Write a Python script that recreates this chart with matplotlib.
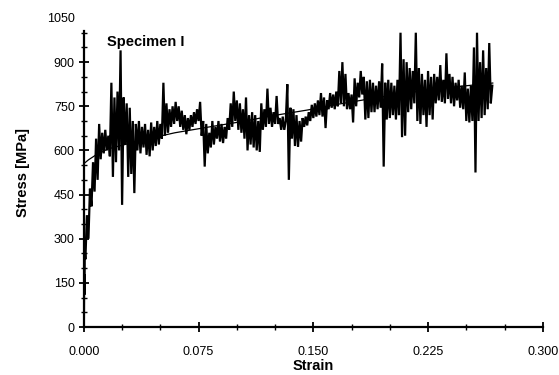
import matplotlib
matplotlib.use("Agg")
import matplotlib.pyplot as plt
from matplotlib.ticker import MultipleLocator

plt.rcParams['font.family'] = ['Liberation Sans', 'DejaVu Sans']

strain = [0.0000, 0.0002, 0.0004, 0.0006,
          0.001, 0.002, 0.003, 0.004, 0.005, 0.006, 0.007, 0.008, 0.009,
          0.010, 0.011, 0.012, 0.013, 0.014, 0.015, 0.016, 0.017, 0.018, 0.019,
          0.020, 0.021, 0.022, 0.023, 0.024, 0.025, 0.026, 0.027, 0.028, 0.029,
          0.030, 0.031, 0.032, 0.033, 0.034, 0.035, 0.036, 0.037, 0.038, 0.039,
          0.040, 0.041, 0.042, 0.043, 0.044, 0.045, 0.046, 0.047, 0.048, 0.049,
          0.050, 0.051, 0.052, 0.053, 0.054, 0.055, 0.056, 0.057, 0.058, 0.059,
          0.060, 0.061, 0.062, 0.063, 0.064, 0.065, 0.066, 0.067, 0.068, 0.069,
          0.070, 0.071, 0.072, 0.073, 0.074, 0.075, 0.076, 0.077, 0.078, 0.079,
          0.080, 0.081, 0.082, 0.083, 0.084, 0.085, 0.086, 0.087, 0.088, 0.089,
          0.090, 0.091, 0.092, 0.093, 0.094, 0.095, 0.096, 0.097, 0.098, 0.099,
          0.100, 0.101, 0.102, 0.103, 0.104, 0.105, 0.106, 0.107, 0.108, 0.109,
          0.110, 0.111, 0.112, 0.113, 0.114, 0.115, 0.116, 0.117, 0.118, 0.119,
          0.120, 0.121, 0.122, 0.123, 0.124, 0.125, 0.126, 0.127, 0.128, 0.129,
          0.130, 0.131, 0.132, 0.133, 0.134, 0.135, 0.136, 0.137, 0.138, 0.139,
          0.140, 0.141, 0.142, 0.143, 0.144, 0.145, 0.146, 0.147, 0.148, 0.149,
          0.150, 0.151, 0.152, 0.153, 0.154, 0.155, 0.156, 0.157, 0.158, 0.159,
          0.160, 0.161, 0.162, 0.163, 0.164, 0.165, 0.166, 0.167, 0.168, 0.169,
          0.170, 0.171, 0.172, 0.173, 0.174, 0.175, 0.176, 0.177, 0.178, 0.179,
          0.180, 0.181, 0.182, 0.183, 0.184, 0.185, 0.186, 0.187, 0.188, 0.189,
          0.190, 0.191, 0.192, 0.193, 0.194, 0.195, 0.196, 0.197, 0.198, 0.199,
          0.200, 0.201, 0.202, 0.203, 0.204, 0.205, 0.206, 0.207, 0.208, 0.209,
          0.210, 0.211, 0.212, 0.213, 0.214, 0.215, 0.216, 0.217, 0.218, 0.219,
          0.220, 0.221, 0.222, 0.223, 0.224, 0.225, 0.226, 0.227, 0.228, 0.229,
          0.230, 0.231, 0.232, 0.233, 0.234, 0.235, 0.236, 0.237, 0.238, 0.239,
          0.240, 0.241, 0.242, 0.243, 0.244, 0.245, 0.246, 0.247, 0.248, 0.249,
          0.250, 0.251, 0.252, 0.253, 0.254, 0.255, 0.256, 0.257, 0.258, 0.259,
          0.260, 0.261, 0.262, 0.263, 0.264, 0.265, 0.266, 0.267]

stress = [0, 180, 110, 260,
          230, 380, 300, 470, 410, 560, 460, 640, 500,
          690, 570, 660, 590, 670, 600, 650, 580, 830, 510,
          780, 560, 800, 600, 940, 415, 780, 620, 760, 510,
          745, 520, 700, 455, 690, 600, 700, 590, 680, 610,
          690, 585, 670, 580, 695, 600, 680, 615, 700, 620,
          690, 640, 830, 650, 760, 660, 740, 680, 750, 690,
          765, 700, 750, 680, 735, 670, 720, 655, 710, 670,
          720, 680, 730, 690, 740, 700, 765, 650, 700, 545,
          690, 590, 660, 610, 700, 620, 680, 640, 700, 630,
          690, 625, 680, 640, 710, 670, 760, 680, 800, 700,
          770, 670, 760, 660, 740, 640, 780, 600, 720, 620,
          730, 610, 720, 600, 700, 595, 760, 670, 740, 680,
          810, 690, 745, 680, 730, 690, 785, 690, 710, 670,
          715, 670, 700, 825, 500, 745, 640, 740, 615, 720,
          612, 700, 630, 710, 680, 715, 685, 730, 700, 755,
          710, 760, 715, 770, 720, 795, 715, 780, 676, 770,
          740, 795, 745, 790, 740, 800, 750, 870, 760, 900,
          750, 860, 740, 795, 740, 790, 695, 845, 750, 830,
          780, 870, 790, 850, 705, 835, 710, 840, 730, 830,
          730, 820, 740, 835, 745, 895, 545, 830, 705, 840,
          710, 830, 720, 820, 705, 840, 720, 1000, 645, 910,
          650, 900, 730, 880, 740, 870, 760, 1000, 700, 880,
          690, 860, 720, 840, 680, 870, 720, 850, 705, 860,
          760, 850, 770, 890, 765, 840, 760, 930, 775, 860,
          760, 850, 750, 830, 770, 840, 745, 820, 740, 865,
          700, 810, 695, 820, 700, 950, 525, 1000, 700, 900,
          710, 940, 720, 880, 740, 965, 760, 820]

# fitted curve
fit_strain = [0.000, 0.003, 0.008, 0.0157, 0.0379, 0.0595, 0.0810, 0.1033,
              0.1235, 0.1458, 0.1673, 0.1889, 0.2150, 0.2373, 0.2542, 0.2673]
fit_stress = [555, 568, 585, 605, 635, 660, 679, 698,
              718, 737, 758, 777, 798, 813, 822, 829]

fig = plt.figure(figsize=(5.59, 3.75), dpi=100)
ax = fig.add_axes([0.150, 0.128, 0.821, 0.824])

ax.plot(strain, stress, color='black', lw=1.6, solid_joinstyle='miter')
ax.plot(fit_strain, fit_stress, color='black', lw=0.9)

ax.set_xlim(0, 0.3)
ax.set_ylim(0, 1050)
ax.spines['top'].set_visible(False)
ax.spines['right'].set_visible(False)
ax.spines['left'].set_bounds(0, 1005)
ax.spines['left'].set_linewidth(1.6)
ax.spines['bottom'].set_linewidth(1.6)

ax.set_xticks([0.0, 0.075, 0.15, 0.225, 0.3])
ax.set_xticklabels(['0.000', '0.075', '0.150', '0.225', '0.300'])
ax.xaxis.set_minor_locator(MultipleLocator(0.025))
ax.set_yticks([0, 150, 300, 450, 600, 750, 900, 1050])
ax.yaxis.set_minor_locator(MultipleLocator(50))
ax.tick_params(which='major', direction='inout', length=7, width=1.3,
               labelsize=9, pad=3)
ax.tick_params(which='minor', direction='inout', length=4, width=1.0)
ax.tick_params(axis='x', pad=10)
ax.yaxis.get_major_ticks()[-1].tick1line.set_visible(False)

ax.set_xlabel('Strain', fontsize=10.5, fontweight='bold', labelpad=1)
ax.set_ylabel('Stress [MPa]', fontsize=10.5, fontweight='bold', labelpad=12)
ax.text(0.0405, 968, 'Specimen I', fontsize=10.5, fontweight='bold',
        ha='center', va='center')

fig.savefig('out.png', dpi=100)
